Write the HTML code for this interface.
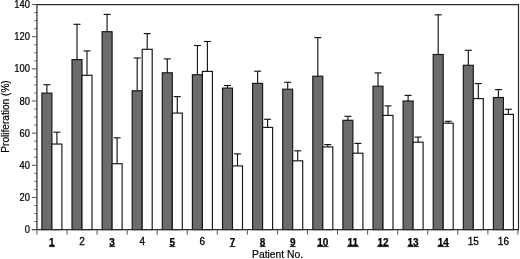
<!DOCTYPE html>
<html><head><meta charset="utf-8"><style>
html,body{margin:0;padding:0;background:#fff;width:520px;height:259px;overflow:hidden}
svg{display:block;will-change:transform}
text{font-family:"Liberation Sans",sans-serif;fill:#000;stroke:#000;stroke-width:0.3px}
.yl{font-size:10px;stroke-width:0.25px}
.xl{font-size:10px;stroke-width:0.3px}
.xb{font-size:10px;font-weight:bold;stroke-width:0.25px}
.u{stroke:#222;stroke-width:1}
.xt{font-size:10.3px;stroke-width:0.2px}
.xt2{font-size:10.1px;stroke-width:0.2px}
.l{stroke:#151515;stroke-width:1.15}
.b{stroke:#151515;stroke-width:1.15}
.f{stroke:#2a2a2a;stroke-width:1.2}
.t{stroke:#555;stroke-width:1}
</style></head><body>
<svg width="520" height="259" viewBox="0 0 520 259">
<line x1="46.90" y1="93.10" x2="46.90" y2="84.70" class="l"/>
<line x1="43.40" y1="84.70" x2="50.40" y2="84.70" class="l"/>
<line x1="56.90" y1="144.05" x2="56.90" y2="132.20" class="l"/>
<line x1="53.40" y1="132.20" x2="60.40" y2="132.20" class="l"/>
<rect x="41.90" y="93.10" width="10.00" height="136.50" fill="#6c6c6c" class="b"/>
<rect x="51.90" y="144.05" width="10.00" height="85.55" fill="#fff" class="b"/>
<line x1="77.00" y1="59.60" x2="77.00" y2="24.30" class="l"/>
<line x1="73.50" y1="24.30" x2="80.50" y2="24.30" class="l"/>
<line x1="87.00" y1="75.30" x2="87.00" y2="50.90" class="l"/>
<line x1="83.50" y1="50.90" x2="90.50" y2="50.90" class="l"/>
<rect x="72.00" y="59.60" width="10.00" height="170.00" fill="#6c6c6c" class="b"/>
<rect x="82.00" y="75.30" width="10.00" height="154.30" fill="#fff" class="b"/>
<line x1="107.10" y1="31.70" x2="107.10" y2="14.40" class="l"/>
<line x1="103.60" y1="14.40" x2="110.60" y2="14.40" class="l"/>
<line x1="117.10" y1="163.70" x2="117.10" y2="137.80" class="l"/>
<line x1="113.60" y1="137.80" x2="120.60" y2="137.80" class="l"/>
<rect x="102.10" y="31.70" width="10.00" height="197.90" fill="#6c6c6c" class="b"/>
<rect x="112.10" y="163.70" width="10.00" height="65.90" fill="#fff" class="b"/>
<line x1="137.20" y1="90.80" x2="137.20" y2="58.00" class="l"/>
<line x1="133.70" y1="58.00" x2="140.70" y2="58.00" class="l"/>
<line x1="147.20" y1="49.30" x2="147.20" y2="33.60" class="l"/>
<line x1="143.70" y1="33.60" x2="150.70" y2="33.60" class="l"/>
<rect x="132.20" y="90.80" width="10.00" height="138.80" fill="#6c6c6c" class="b"/>
<rect x="142.20" y="49.30" width="10.00" height="180.30" fill="#fff" class="b"/>
<line x1="167.30" y1="72.80" x2="167.30" y2="58.90" class="l"/>
<line x1="163.80" y1="58.90" x2="170.80" y2="58.90" class="l"/>
<line x1="177.30" y1="113.10" x2="177.30" y2="96.60" class="l"/>
<line x1="173.80" y1="96.60" x2="180.80" y2="96.60" class="l"/>
<rect x="162.30" y="72.80" width="10.00" height="156.80" fill="#6c6c6c" class="b"/>
<rect x="172.30" y="113.10" width="10.00" height="116.50" fill="#fff" class="b"/>
<line x1="197.40" y1="74.70" x2="197.40" y2="45.50" class="l"/>
<line x1="193.90" y1="45.50" x2="200.90" y2="45.50" class="l"/>
<line x1="207.40" y1="71.40" x2="207.40" y2="41.50" class="l"/>
<line x1="203.90" y1="41.50" x2="210.90" y2="41.50" class="l"/>
<rect x="192.40" y="74.70" width="10.00" height="154.90" fill="#6c6c6c" class="b"/>
<rect x="202.40" y="71.40" width="10.00" height="158.20" fill="#fff" class="b"/>
<line x1="227.50" y1="88.10" x2="227.50" y2="85.50" class="l"/>
<line x1="224.00" y1="85.50" x2="231.00" y2="85.50" class="l"/>
<line x1="237.50" y1="165.90" x2="237.50" y2="153.90" class="l"/>
<line x1="234.00" y1="153.90" x2="241.00" y2="153.90" class="l"/>
<rect x="222.50" y="88.10" width="10.00" height="141.50" fill="#6c6c6c" class="b"/>
<rect x="232.50" y="165.90" width="10.00" height="63.70" fill="#fff" class="b"/>
<line x1="257.60" y1="83.40" x2="257.60" y2="71.20" class="l"/>
<line x1="254.10" y1="71.20" x2="261.10" y2="71.20" class="l"/>
<line x1="267.60" y1="127.40" x2="267.60" y2="119.30" class="l"/>
<line x1="264.10" y1="119.30" x2="271.10" y2="119.30" class="l"/>
<rect x="252.60" y="83.40" width="10.00" height="146.20" fill="#6c6c6c" class="b"/>
<rect x="262.60" y="127.40" width="10.00" height="102.20" fill="#fff" class="b"/>
<line x1="287.70" y1="89.20" x2="287.70" y2="82.30" class="l"/>
<line x1="284.20" y1="82.30" x2="291.20" y2="82.30" class="l"/>
<line x1="297.70" y1="160.80" x2="297.70" y2="150.80" class="l"/>
<line x1="294.20" y1="150.80" x2="301.20" y2="150.80" class="l"/>
<rect x="282.70" y="89.20" width="10.00" height="140.40" fill="#6c6c6c" class="b"/>
<rect x="292.70" y="160.80" width="10.00" height="68.80" fill="#fff" class="b"/>
<line x1="317.80" y1="76.20" x2="317.80" y2="37.60" class="l"/>
<line x1="314.30" y1="37.60" x2="321.30" y2="37.60" class="l"/>
<line x1="327.80" y1="146.90" x2="327.80" y2="144.60" class="l"/>
<line x1="324.30" y1="144.60" x2="331.30" y2="144.60" class="l"/>
<rect x="312.80" y="76.20" width="10.00" height="153.40" fill="#6c6c6c" class="b"/>
<rect x="322.80" y="146.90" width="10.00" height="82.70" fill="#fff" class="b"/>
<line x1="347.90" y1="120.30" x2="347.90" y2="116.30" class="l"/>
<line x1="344.40" y1="116.30" x2="351.40" y2="116.30" class="l"/>
<line x1="357.90" y1="153.20" x2="357.90" y2="143.40" class="l"/>
<line x1="354.40" y1="143.40" x2="361.40" y2="143.40" class="l"/>
<rect x="342.90" y="120.30" width="10.00" height="109.30" fill="#6c6c6c" class="b"/>
<rect x="352.90" y="153.20" width="10.00" height="76.40" fill="#fff" class="b"/>
<line x1="378.00" y1="86.20" x2="378.00" y2="72.90" class="l"/>
<line x1="374.50" y1="72.90" x2="381.50" y2="72.90" class="l"/>
<line x1="388.00" y1="115.40" x2="388.00" y2="105.90" class="l"/>
<line x1="384.50" y1="105.90" x2="391.50" y2="105.90" class="l"/>
<rect x="373.00" y="86.20" width="10.00" height="143.40" fill="#6c6c6c" class="b"/>
<rect x="383.00" y="115.40" width="10.00" height="114.20" fill="#fff" class="b"/>
<line x1="408.10" y1="101.00" x2="408.10" y2="95.40" class="l"/>
<line x1="404.60" y1="95.40" x2="411.60" y2="95.40" class="l"/>
<line x1="418.10" y1="142.20" x2="418.10" y2="137.10" class="l"/>
<line x1="414.60" y1="137.10" x2="421.60" y2="137.10" class="l"/>
<rect x="403.10" y="101.00" width="10.00" height="128.60" fill="#6c6c6c" class="b"/>
<rect x="413.10" y="142.20" width="10.00" height="87.40" fill="#fff" class="b"/>
<line x1="438.20" y1="54.50" x2="438.20" y2="14.80" class="l"/>
<line x1="434.70" y1="14.80" x2="441.70" y2="14.80" class="l"/>
<line x1="448.20" y1="123.20" x2="448.20" y2="121.30" class="l"/>
<line x1="444.70" y1="121.30" x2="451.70" y2="121.30" class="l"/>
<rect x="433.20" y="54.50" width="10.00" height="175.10" fill="#6c6c6c" class="b"/>
<rect x="443.20" y="123.20" width="10.00" height="106.40" fill="#fff" class="b"/>
<line x1="468.30" y1="65.30" x2="468.30" y2="50.30" class="l"/>
<line x1="464.80" y1="50.30" x2="471.80" y2="50.30" class="l"/>
<line x1="478.30" y1="98.60" x2="478.30" y2="83.60" class="l"/>
<line x1="474.80" y1="83.60" x2="481.80" y2="83.60" class="l"/>
<rect x="463.30" y="65.30" width="10.00" height="164.30" fill="#6c6c6c" class="b"/>
<rect x="473.30" y="98.60" width="10.00" height="131.00" fill="#fff" class="b"/>
<line x1="498.40" y1="97.50" x2="498.40" y2="89.60" class="l"/>
<line x1="494.90" y1="89.60" x2="501.90" y2="89.60" class="l"/>
<line x1="508.40" y1="114.40" x2="508.40" y2="109.30" class="l"/>
<line x1="504.90" y1="109.30" x2="511.90" y2="109.30" class="l"/>
<rect x="493.40" y="97.50" width="10.00" height="132.10" fill="#6c6c6c" class="b"/>
<rect x="503.40" y="114.40" width="10.00" height="115.20" fill="#fff" class="b"/>
<line x1="36.95" y1="4.55" x2="518.50" y2="4.55" class="f"/>
<line x1="518.50" y1="3.95" x2="518.50" y2="230.20" class="f"/>
<line x1="36.95" y1="4.55" x2="36.95" y2="229.60" class="f"/>
<line x1="31.95" y1="229.60" x2="518.50" y2="229.60" class="f"/>
<line x1="31.95" y1="229.60" x2="36.95" y2="229.60" class="t"/>
<text transform="translate(29.9,233.15) scale(0.94,1)" text-anchor="end" class="yl">0</text>
<line x1="34.45" y1="221.56" x2="36.95" y2="221.56" class="t"/>
<line x1="34.45" y1="213.53" x2="36.95" y2="213.53" class="t"/>
<line x1="34.45" y1="205.49" x2="36.95" y2="205.49" class="t"/>
<line x1="31.95" y1="197.45" x2="36.95" y2="197.45" class="t"/>
<text transform="translate(29.9,201.00) scale(0.94,1)" text-anchor="end" class="yl">20</text>
<line x1="34.45" y1="189.41" x2="36.95" y2="189.41" class="t"/>
<line x1="34.45" y1="181.38" x2="36.95" y2="181.38" class="t"/>
<line x1="34.45" y1="173.34" x2="36.95" y2="173.34" class="t"/>
<line x1="31.95" y1="165.30" x2="36.95" y2="165.30" class="t"/>
<text transform="translate(29.9,168.85) scale(0.94,1)" text-anchor="end" class="yl">40</text>
<line x1="34.45" y1="157.26" x2="36.95" y2="157.26" class="t"/>
<line x1="34.45" y1="149.22" x2="36.95" y2="149.22" class="t"/>
<line x1="34.45" y1="141.19" x2="36.95" y2="141.19" class="t"/>
<line x1="31.95" y1="133.15" x2="36.95" y2="133.15" class="t"/>
<text transform="translate(29.9,136.70) scale(0.94,1)" text-anchor="end" class="yl">60</text>
<line x1="34.45" y1="125.11" x2="36.95" y2="125.11" class="t"/>
<line x1="34.45" y1="117.08" x2="36.95" y2="117.08" class="t"/>
<line x1="34.45" y1="109.04" x2="36.95" y2="109.04" class="t"/>
<line x1="31.95" y1="101.00" x2="36.95" y2="101.00" class="t"/>
<text transform="translate(29.9,104.55) scale(0.94,1)" text-anchor="end" class="yl">80</text>
<line x1="34.45" y1="92.96" x2="36.95" y2="92.96" class="t"/>
<line x1="34.45" y1="84.93" x2="36.95" y2="84.93" class="t"/>
<line x1="34.45" y1="76.89" x2="36.95" y2="76.89" class="t"/>
<line x1="31.95" y1="68.85" x2="36.95" y2="68.85" class="t"/>
<text transform="translate(29.9,72.40) scale(0.94,1)" text-anchor="end" class="yl">100</text>
<line x1="34.45" y1="60.81" x2="36.95" y2="60.81" class="t"/>
<line x1="34.45" y1="52.78" x2="36.95" y2="52.78" class="t"/>
<line x1="34.45" y1="44.74" x2="36.95" y2="44.74" class="t"/>
<line x1="31.95" y1="36.70" x2="36.95" y2="36.70" class="t"/>
<text transform="translate(29.9,40.25) scale(0.94,1)" text-anchor="end" class="yl">120</text>
<line x1="34.45" y1="28.66" x2="36.95" y2="28.66" class="t"/>
<line x1="34.45" y1="20.62" x2="36.95" y2="20.62" class="t"/>
<line x1="34.45" y1="12.59" x2="36.95" y2="12.59" class="t"/>
<line x1="31.95" y1="4.55" x2="36.95" y2="4.55" class="t"/>
<text transform="translate(29.9,8.10) scale(0.94,1)" text-anchor="end" class="yl">140</text>
<line x1="36.95" y1="229.60" x2="36.95" y2="234.60" class="t"/>
<line x1="67.01" y1="229.60" x2="67.01" y2="234.60" class="t"/>
<line x1="97.07" y1="229.60" x2="97.07" y2="234.60" class="t"/>
<line x1="127.13" y1="229.60" x2="127.13" y2="234.60" class="t"/>
<line x1="157.19" y1="229.60" x2="157.19" y2="234.60" class="t"/>
<line x1="187.25" y1="229.60" x2="187.25" y2="234.60" class="t"/>
<line x1="217.31" y1="229.60" x2="217.31" y2="234.60" class="t"/>
<line x1="247.37" y1="229.60" x2="247.37" y2="234.60" class="t"/>
<line x1="277.43" y1="229.60" x2="277.43" y2="234.60" class="t"/>
<line x1="307.49" y1="229.60" x2="307.49" y2="234.60" class="t"/>
<line x1="337.55" y1="229.60" x2="337.55" y2="234.60" class="t"/>
<line x1="367.61" y1="229.60" x2="367.61" y2="234.60" class="t"/>
<line x1="397.67" y1="229.60" x2="397.67" y2="234.60" class="t"/>
<line x1="427.73" y1="229.60" x2="427.73" y2="234.60" class="t"/>
<line x1="457.79" y1="229.60" x2="457.79" y2="234.60" class="t"/>
<line x1="487.85" y1="229.60" x2="487.85" y2="234.60" class="t"/>
<line x1="517.91" y1="229.60" x2="517.91" y2="234.60" class="t"/>
<text x="51.90" y="245.9" text-anchor="middle" class="xb">1</text>
<line x1="48.90" y1="246.6" x2="54.90" y2="246.6" class="u"/>
<text x="82.00" y="245.1" text-anchor="middle" class="xl">2</text>
<text x="112.10" y="245.9" text-anchor="middle" class="xb">3</text>
<line x1="109.10" y1="246.6" x2="115.10" y2="246.6" class="u"/>
<text x="142.20" y="245.1" text-anchor="middle" class="xl">4</text>
<text x="172.30" y="245.9" text-anchor="middle" class="xb">5</text>
<line x1="169.30" y1="246.6" x2="175.30" y2="246.6" class="u"/>
<text x="202.40" y="245.1" text-anchor="middle" class="xl">6</text>
<text x="232.50" y="245.9" text-anchor="middle" class="xb">7</text>
<line x1="229.50" y1="246.6" x2="235.50" y2="246.6" class="u"/>
<text x="262.60" y="245.9" text-anchor="middle" class="xb">8</text>
<line x1="259.60" y1="246.6" x2="265.60" y2="246.6" class="u"/>
<text x="292.70" y="245.9" text-anchor="middle" class="xb">9</text>
<line x1="289.70" y1="246.6" x2="295.70" y2="246.6" class="u"/>
<text x="322.80" y="245.9" text-anchor="middle" class="xb">10</text>
<line x1="317.00" y1="246.6" x2="328.60" y2="246.6" class="u"/>
<text x="352.90" y="245.9" text-anchor="middle" class="xb">11</text>
<line x1="347.10" y1="246.6" x2="358.70" y2="246.6" class="u"/>
<text x="383.00" y="245.9" text-anchor="middle" class="xb">12</text>
<line x1="377.20" y1="246.6" x2="388.80" y2="246.6" class="u"/>
<text x="413.10" y="245.9" text-anchor="middle" class="xb">13</text>
<line x1="407.30" y1="246.6" x2="418.90" y2="246.6" class="u"/>
<text x="443.20" y="245.9" text-anchor="middle" class="xb">14</text>
<line x1="437.40" y1="246.6" x2="449.00" y2="246.6" class="u"/>
<text x="473.30" y="245.1" text-anchor="middle" class="xl">15</text>
<text x="503.40" y="245.1" text-anchor="middle" class="xl">16</text>
<text x="277.6" y="257.5" text-anchor="middle" class="xt">Patient No.</text>
<text transform="translate(8.6,116.45) rotate(-90)" text-anchor="middle" class="xt2">Proliferation (%)</text>
</svg>
</body></html>
